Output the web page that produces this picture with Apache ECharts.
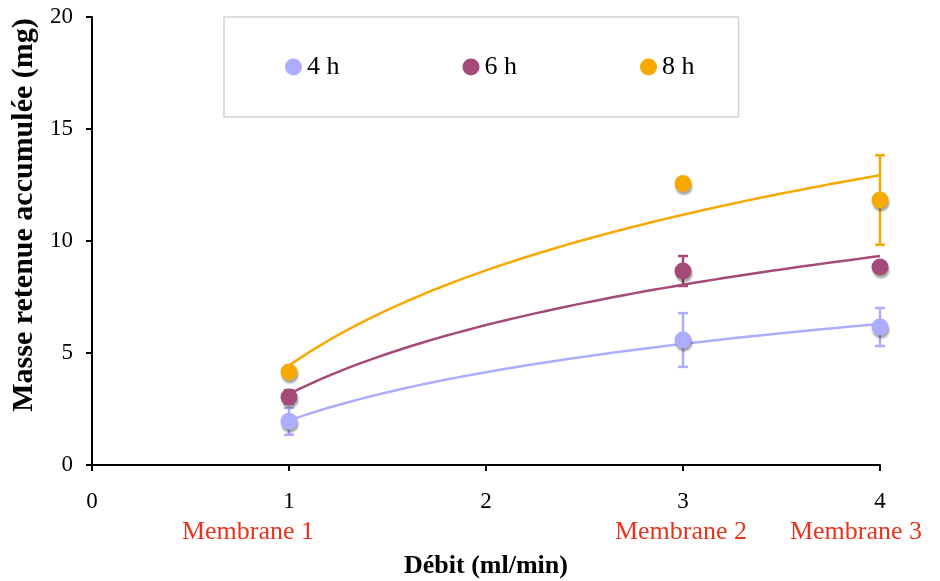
<!DOCTYPE html>
<html>
<head>
<meta charset="utf-8">
<script src="https://cdn.jsdelivr.net/npm/echarts@6/dist/echarts.min.js"></script>
<style>html,body{margin:0;padding:0;background:#fff}#c{width:940px;height:581px}</style>
</head>
<body>
<div id="c"></div>
<script>
// ---- data ----
const xValues = [1, 3, 4];
const seriesNames = ['4 h', '6 h', '8 h'];
const values4h = [1.95, 5.58, 6.16];
const values6h = [3.04, 8.66, 8.84];
const values8h = [4.15, 12.57, 11.83];
const err4h = [0.6, 1.2, 0.85];
const err6h = [0.3, 0.67, 0.2];
const err8h = [0.2, 0.15, 2.0];
const xTicks = [0, 1, 2, 3, 4];
const yTicks = [0, 5, 10, 15, 20];
const membranePositions = [1, 3, 4];
const membraneNames = ['Membrane 1', 'Membrane 2', 'Membrane 3'];
const colors = ['#adadff', '#a54a78', '#f8a900'];

// logarithmic least-squares trendline fitted to each series (as the original spreadsheet trendline)
function logFit(xs, ys) {
  const lx = xs.map(Math.log);
  const n = xs.length;
  const mx = lx.reduce((a, b) => a + b, 0) / n;
  const my = ys.reduce((a, b) => a + b, 0) / n;
  let sxy = 0, sxx = 0;
  for (let i = 0; i < n; i++) { sxy += (lx[i] - mx) * (ys[i] - my); sxx += (lx[i] - mx) ** 2; }
  const a = sxy / sxx, b = my - a * mx;
  const pts = [];
  const x0 = Math.min(...xs), x1 = Math.max(...xs);
  for (let k = 0; k <= 60; k++) { const x = x0 + (x1 - x0) * k / 60; pts.push([x, a * Math.log(x) + b]); }
  return pts;
}

const allValues = [values4h, values6h, values8h];
const allErr = [err4h, err6h, err8h];
const FONT = 'Liberation Serif';
// label style keys per membrane (horizontal offsets of the red captions)
const membraneStyleKeys = ['m1', 'm2', 'm3'];

const series = [];
seriesNames.forEach((name, i) => {
  series.push({
    name: name + ' trend', type: 'line', data: logFit(xValues, allValues[i]),
    showSymbol: false, symbol: 'none', smooth: false, z: 2,
    lineStyle: { color: colors[i], width: 2.5 }, silent: true
  });
  series.push({
    name: name + ' err', type: 'custom', z: 3, silent: true,
    data: xValues.map((x, j) => [x, allValues[i][j] - allErr[i][j], allValues[i][j] + allErr[i][j]]),
    renderItem: function (params, api) {
      const lo = api.coord([api.value(0), api.value(1)]);
      const hi = api.coord([api.value(0), api.value(2)]);
      const w = 5;
      const st = { stroke: colors[i], lineWidth: 2.5 };
      return { type: 'group', children: [
        { type: 'line', shape: { x1: lo[0], y1: lo[1], x2: hi[0], y2: hi[1] }, style: st },
        { type: 'line', shape: { x1: lo[0] - w, y1: lo[1], x2: lo[0] + w, y2: lo[1] }, style: st },
        { type: 'line', shape: { x1: hi[0] - w, y1: hi[1], x2: hi[0] + w, y2: hi[1] }, style: st }
      ]};
    }
  });
  series.push({
    name: name, type: 'scatter', z: 4,
    data: xValues.map((x, j) => [x, allValues[i][j]]),
    symbol: 'circle', symbolSize: 17,
    itemStyle: { color: colors[i], opacity: 1, shadowColor: 'rgba(0,0,0,0.35)', shadowBlur: 2, shadowOffsetX: 1, shadowOffsetY: 3 }
  });
});

const mBase = { fontFamily: FONT, fontSize: 26, color: '#e8341c', lineHeight: 31 };

const chart = echarts.init(document.getElementById('c'), null, { renderer: 'canvas' });
chart.setOption({
  animation: false,
  backgroundColor: '#fff',
  textStyle: { fontFamily: FONT },
  grid: { left: 92, right: 60, top: 17, bottom: 116, containLabel: false, outerBoundsMode: 'none' },
  legend: {
    data: seriesNames,
    left: 224, top: 17,
    padding: [37, 44, 37, 61],
    itemGap: 123,
    itemWidth: 17, itemHeight: 17,
    icon: 'circle',
    borderColor: '#d4d4d4', borderWidth: 1.5,
    itemStyle: { opacity: 1, shadowBlur: 0, shadowColor: 'transparent', shadowOffsetX: 0, shadowOffsetY: 0 },
    textStyle: { fontFamily: FONT, fontSize: 26, color: '#000', padding: [4, 0, 0, 0] },
    selectedMode: false
  },
  xAxis: {
    type: 'value', min: xTicks[0], max: xTicks[xTicks.length - 1], interval: 1,
    name: 'Débit (ml/min)', nameLocation: 'middle', nameGap: 88,
    nameTextStyle: { fontFamily: FONT, fontSize: 26, fontWeight: 'bold', color: '#000' },
    axisLine: { lineStyle: { color: '#000', width: 2 } },
    axisTick: { show: true, inside: false, length: 6, lineStyle: { color: '#000', width: 2 } },
    splitLine: { show: false },
    axisLabel: {
      margin: 21, color: '#000', fontFamily: FONT, fontSize: 23, hideOverlap: false,
      formatter: function (v) {
        const k = membranePositions.indexOf(v);
        return k >= 0 ? '{n|' + v + '}\n{' + membraneStyleKeys[k] + '|' + membraneNames[k] + '}' : '{n|' + v + '}';
      },
      rich: {
        n: { fontFamily: FONT, fontSize: 23, color: '#000', lineHeight: 31 },
        m1: Object.assign({}, mBase, { padding: [0, 82, 0, 0] }),
        m2: Object.assign({}, mBase, { padding: [0, 4, 0, 0] }),
        m3: Object.assign({}, mBase, { padding: [0, 48, 0, 0] })
      }
    }
  },
  yAxis: {
    type: 'value', min: yTicks[0], max: yTicks[yTicks.length - 1], interval: 5,
    name: 'Masse retenue accumulée (mg)', nameLocation: 'middle', nameGap: 52,
    nameTextStyle: { fontFamily: FONT, fontSize: 30, fontWeight: 'bold', color: '#000', padding: [0, 0, 0, 52] },
    axisLine: { show: true, lineStyle: { color: '#000', width: 2 } },
    axisTick: { show: true, inside: false, length: 6, lineStyle: { color: '#000', width: 2 } },
    splitLine: { show: false },
    axisLabel: { margin: 19, color: '#000', fontFamily: FONT, fontSize: 23 }
  },
  series: series
});
</script>
</body>
</html>
